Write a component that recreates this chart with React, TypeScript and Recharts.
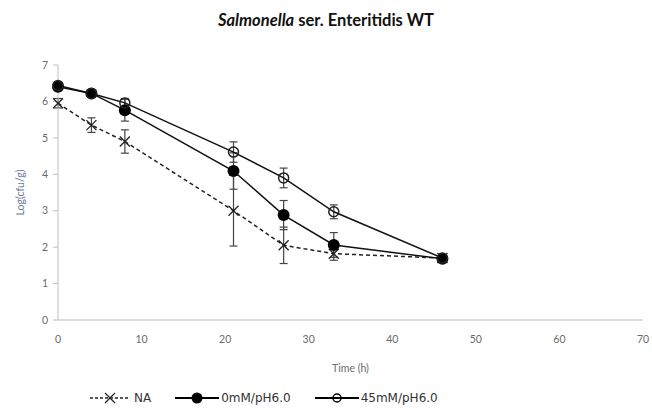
import { LineChart, Line, XAxis, YAxis, ErrorBar, Label } from 'recharts'

const times = [0, 4, 8, 21, 27, 33, 46]
const naMean = [5.95, 5.35, 4.9, 3.0, 2.05, 1.82, 1.7]
const naErr = [0.13, 0.2, 0.32, 0.97, 0.5, 0.18, 0.08]
const mM0Mean = [6.4, 6.22, 5.76, 4.09, 2.88, 2.06, 1.68]
const mM0Err = [0.1, 0.08, 0.3, 0.5, 0.4, 0.34, 0.07]
const mM45Mean = [6.44, 6.22, 5.96, 4.61, 3.9, 2.97, 1.7]
const mM45Err = [0.08, 0.07, 0.12, 0.28, 0.27, 0.19, 0.08]
const xTicks = [0, 10, 20, 30, 40, 50, 60, 70]
const yTicks = [0, 1, 2, 3, 4, 5, 6, 7]

const data = times.map((t, i) => ({
  t,
  na: naMean[i],
  naErr: naErr[i],
  m0: mM0Mean[i],
  m0Err: mM0Err[i],
  m45: mM45Mean[i],
  m45Err: mM45Err[i],
}))

const tickStyle = { fontSize: 10.5, fill: '#6b6b6b', fontFamily: 'Lato, sans-serif' }

function CrossDot(props: any) {
  const { cx, cy } = props
  if (cx == null || cy == null) return null
  return (
    <g stroke="#222" strokeWidth={1.3}>
      <line x1={cx - 5} y1={cy - 5} x2={cx + 5} y2={cy + 5} />
      <line x1={cx - 5} y1={cy + 5} x2={cx + 5} y2={cy - 5} />
    </g>
  )
}

function FilledDot(props: any) {
  const { cx, cy } = props
  if (cx == null || cy == null) return null
  return <circle cx={cx} cy={cy} r={6} fill="#000" />
}

function OpenDot(props: any) {
  const { cx, cy } = props
  if (cx == null || cy == null) return null
  return <circle cx={cx} cy={cy} r={5} fill="none" stroke="#222" strokeWidth={1.5} />
}

function LegendRow() {
  const text = { fontFamily: '"DejaVu Sans", sans-serif', fontSize: 12, color: '#333' }
  return (
    <div style={{ position: 'absolute', left: 88, top: 390, display: 'flex', alignItems: 'center', ...text }}>
      <svg width={44} height={16}>
        <line x1={2} y1={8} x2={42} y2={8} stroke="#222" strokeWidth={1.5} strokeDasharray="3 2" />
        <line x1={17} y1={3} x2={27} y2={13} stroke="#222" strokeWidth={1.3} />
        <line x1={17} y1={13} x2={27} y2={3} stroke="#222" strokeWidth={1.3} />
      </svg>
      <span style={{ marginLeft: 2 }}>NA</span>
      <svg width={48} height={16} style={{ marginLeft: 22 }}>
        <line x1={2} y1={8} x2={46} y2={8} stroke="#000" strokeWidth={1.8} />
        <circle cx={24} cy={8} r={5.5} fill="#000" />
      </svg>
      <span>0mM/pH6.0</span>
      <svg width={48} height={16} style={{ marginLeft: 22 }}>
        <line x1={2} y1={8} x2={46} y2={8} stroke="#000" strokeWidth={1.8} />
        <circle cx={24} cy={8} r={4} fill="none" stroke="#000" strokeWidth={1.5} />
      </svg>
      <span>45mM/pH6.0</span>
    </div>
  )
}

export default function App() {
  return (
    <div style={{ position: 'absolute', left: 0, top: 0, width: 652, height: 414, background: '#fff' }}>
      <div
        style={{
          position: 'absolute',
          top: 10,
          left: 0,
          width: 652,
          textAlign: 'center',
          fontFamily: 'Lato, sans-serif',
          fontWeight: 700,
          fontSize: 16.5,
          color: '#111',
        }}
      >
        <i>Salmonella</i> ser. Enteritidis WT
      </div>
      <LineChart width={652} height={414} data={data} margin={{ top: 65, right: 9, bottom: 36, left: 0 }}>
        <XAxis
          dataKey="t"
          type="number"
          domain={[0, 70]}
          ticks={xTicks}
          tickLine={false}
          tickMargin={10}
          tick={tickStyle}
          stroke="#bfbfbf"
          height={58}
        >
          <Label value="Time (h)" position="insideBottom" offset={6} style={{ fontSize: 10.5, fill: '#6b6b6b', fontFamily: 'Lato, sans-serif' }} />
        </XAxis>
        <YAxis
          type="number"
          domain={[0, 7]}
          ticks={yTicks}
          width={58}
          tickSize={5}
          tickMargin={5}
          tick={tickStyle}
          stroke="#bfbfbf"
        >
          <Label value="Log(cfu/g)" angle={-90} position="insideLeft" offset={20} style={{ fontSize: 10.5, fill: '#6b7a99', fontFamily: 'Lato, sans-serif', textAnchor: 'middle' }} />
        </YAxis>
        <Line dataKey="na" stroke="#222" strokeWidth={1.5} strokeDasharray="4 3" dot={<CrossDot />} isAnimationActive={false}>
          <ErrorBar dataKey="naErr" direction="y" width={4} stroke="#444" strokeWidth={1.2} />
        </Line>
        <Line dataKey="m0" stroke="#111" strokeWidth={1.5} dot={<FilledDot />} isAnimationActive={false}>
          <ErrorBar dataKey="m0Err" direction="y" width={4} stroke="#444" strokeWidth={1.2} />
        </Line>
        <Line dataKey="m45" stroke="#111" strokeWidth={1.5} dot={<OpenDot />} isAnimationActive={false}>
          <ErrorBar dataKey="m45Err" direction="y" width={4} stroke="#444" strokeWidth={1.2} />
        </Line>
      </LineChart>
      <LegendRow />
    </div>
  )
}
